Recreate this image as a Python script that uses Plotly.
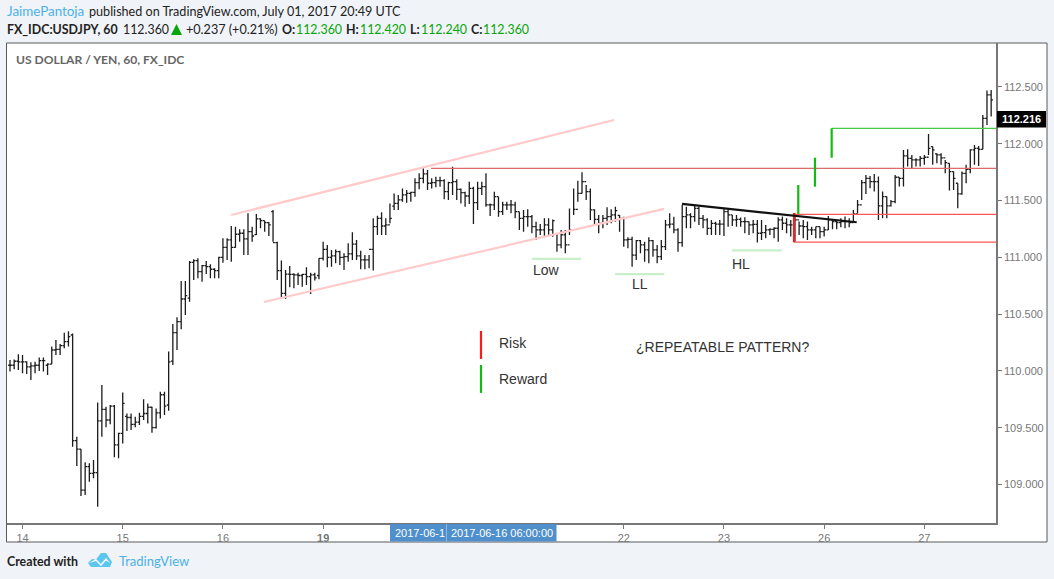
import plotly.graph_objs as go

# bar values (one bar per hour, x is the bar number)
opens = [
    110.05,110.05,110.085,110.08,110.08,110.035,110.045,110.05,110.09,110.05,
    110.06,110.184,110.19,110.223,110.258,110.316,109.386,109.312,108.951,109.157,
    109.098,109.105,109.56,109.662,109.568,109.69,109.348,109.45,109.60,109.59,
    109.53,109.55,109.60,109.625,109.68,109.50,109.63,109.79,109.70,110.087,
    110.337,110.434,110.633,110.64,110.956,110.971,110.874,110.927,110.918,110.895,
    110.883,111.0,111.088,111.153,111.088,111.203,111.212,111.162,111.226,111.20,
    111.338,111.323,111.305,111.402,111.129,110.883,110.683,110.853,110.85,110.845,
    110.84,110.85,110.83,110.845,110.84,110.99,111.07,111.0,111.012,111.05,
    111.0,111.006,111.03,111.117,111.012,110.977,110.977,111.07,111.27,111.343,
    111.276,111.285,111.45,111.475,111.505,111.549,111.563,111.572,111.657,111.696,
    111.734,111.652,111.657,111.675,111.675,111.578,111.657,111.666,111.599,111.569,
    111.54,111.607,111.481,111.607,111.622,111.461,111.461,111.534,111.402,111.461,
    111.461,111.461,111.402,111.343,111.358,111.358,111.27,111.241,111.241,111.285,
    111.241,111.205,111.109,111.197,111.109,111.241,111.423,111.563,111.666,111.578,
    111.417,111.334,111.299,111.343,111.358,111.373,111.37,111.343,111.153,111.158,
    111.02,111.147,111.109,111.065,111.147,111.065,111.006,111.094,111.285,111.293,
    111.241,111.129,111.358,111.373,111.358,111.431,111.343,111.329,111.255,111.299,
    111.293,111.293,111.402,111.373,111.329,111.335,111.315,111.315,111.285,111.291,
    111.212,111.218,111.241,111.247,111.256,111.329,111.3,111.285,111.285,111.329,
    111.276,111.27,111.241,111.241,111.27,111.227,111.241,111.329,111.315,111.306,
    111.315,111.315,111.306,111.382,111.461,111.658,111.696,111.667,111.667,111.453,
    111.535,111.453,111.491,111.705,111.696,111.893,111.872,111.858,111.858,111.872,
    111.881,111.975,111.91,111.902,111.875,111.828,111.755,111.652,111.558,111.74,
    111.775,111.946,111.96,111.951,112.224,112.43,
]
highs = [
    110.096,110.10,110.146,110.14,110.085,110.076,110.08,110.117,110.117,110.067,
    110.214,110.272,110.237,110.337,110.35,110.33,109.421,109.312,109.195,109.186,
    109.216,109.723,109.876,109.685,109.70,109.70,109.456,109.811,109.626,109.626,
    109.597,109.632,109.75,109.714,109.685,109.67,109.817,109.817,110.17,110.413,
    110.472,110.792,110.792,110.968,110.983,110.991,110.933,110.968,110.939,110.903,
    111.006,111.167,111.167,111.276,111.27,111.247,111.247,111.388,111.27,111.382,
    111.344,111.323,111.31,111.417,111.138,110.971,110.888,110.924,110.859,110.865,
    110.853,110.912,110.865,110.865,110.991,111.138,111.109,111.065,111.07,111.059,
    111.035,111.123,111.22,111.153,111.059,111.02,111.02,111.343,111.367,111.396,
    111.343,111.475,111.563,111.549,111.607,111.593,111.578,111.696,111.74,111.784,
    111.769,111.696,111.71,111.71,111.687,111.666,111.798,111.687,111.607,111.578,
    111.666,111.622,111.666,111.666,111.74,111.475,111.578,111.534,111.49,111.49,
    111.505,111.49,111.402,111.417,111.423,111.373,111.314,111.293,111.343,111.343,
    111.334,111.205,111.241,111.241,111.431,111.607,111.675,111.748,111.637,111.607,
    111.423,111.373,111.373,111.44,111.423,111.446,111.373,111.358,111.176,111.182,
    111.153,111.153,111.138,111.176,111.153,111.109,111.153,111.329,111.387,111.358,
    111.255,111.461,111.446,111.387,111.461,111.446,111.373,111.343,111.329,111.314,
    111.329,111.431,111.431,111.373,111.373,111.35,111.353,111.315,111.329,111.329,
    111.329,111.285,111.256,111.265,111.353,111.359,111.344,111.329,111.388,111.315,
    111.329,111.315,111.27,111.27,111.27,111.27,111.364,111.338,111.329,111.344,
    111.359,111.344,111.417,111.505,111.681,111.725,111.717,111.734,111.711,111.579,
    111.535,111.505,111.725,111.705,111.946,111.951,111.902,111.872,111.893,111.902,
    112.086,111.975,111.916,111.916,111.858,111.828,111.755,111.652,111.755,111.814,
    111.951,111.99,111.981,112.254,112.468,112.474,
]
lows = [
    109.994,110.014,110.008,109.98,109.973,109.92,109.98,110.0,109.994,109.964,
    110.06,110.14,110.14,110.2,110.214,109.333,109.163,108.899,108.907,109.025,
    109.054,108.805,109.421,109.503,109.53,109.239,109.23,109.362,109.471,109.48,
    109.503,109.524,109.568,109.538,109.456,109.494,109.582,109.612,109.65,110.052,
    110.184,110.366,110.492,110.61,110.80,110.815,110.786,110.853,110.815,110.815,
    110.815,110.953,110.977,110.962,111.085,111.138,111.021,111.021,111.138,111.197,
    111.256,111.226,111.188,111.138,110.80,110.633,110.633,110.736,110.727,110.756,
    110.742,110.756,110.677,110.795,110.806,110.971,110.912,110.918,110.947,110.932,
    110.888,110.962,110.976,110.976,110.894,110.894,110.903,110.883,111.197,111.197,
    111.197,111.299,111.417,111.417,111.49,111.481,111.49,111.534,111.599,111.652,
    111.593,111.607,111.616,111.622,111.511,111.505,111.549,111.505,111.475,111.446,
    111.47,111.293,111.417,111.549,111.446,111.364,111.417,111.358,111.373,111.417,
    111.387,111.343,111.241,111.226,111.27,111.211,111.153,111.197,111.182,111.188,
    111.182,111.05,111.079,111.035,111.197,111.373,111.49,111.563,111.505,111.329,
    111.285,111.211,111.255,111.285,111.299,111.314,111.226,111.094,111.079,110.918,
    110.976,111.035,110.962,110.947,111.006,110.947,110.976,111.065,111.255,111.211,
    111.05,111.094,111.255,111.255,111.314,111.285,111.255,111.197,111.197,111.197,
    111.197,111.188,111.27,111.276,111.27,111.27,111.212,111.197,111.212,111.13,
    111.153,111.168,111.197,111.168,111.138,111.241,111.212,111.183,111.138,111.197,
    111.168,111.153,111.197,111.168,111.168,111.183,111.241,111.247,111.247,111.265,
    111.256,111.265,111.315,111.388,111.505,111.558,111.608,111.579,111.329,111.344,
    111.344,111.447,111.476,111.623,111.623,111.799,111.784,111.799,111.799,111.814,
    111.902,111.814,111.828,111.814,111.74,111.588,111.593,111.432,111.55,111.652,
    111.74,111.814,111.805,111.951,112.166,112.239,
]
closes = [
    110.05,110.085,110.08,110.08,110.035,110.045,110.05,110.09,110.09,110.06,
    110.184,110.19,110.223,110.258,110.302,109.386,109.312,108.951,109.157,109.098,
    109.105,109.56,109.662,109.568,109.69,109.348,109.45,109.715,109.59,109.53,
    109.55,109.60,109.625,109.68,109.50,109.63,109.79,109.69,110.08,110.337,
    110.434,110.633,110.663,110.956,110.971,110.874,110.927,110.918,110.895,110.883,
    111.0,111.088,111.153,111.088,111.203,111.212,111.162,111.226,111.188,111.338,
    111.323,111.305,111.285,111.129,110.883,110.683,110.853,110.85,110.845,110.84,
    110.85,110.83,110.845,110.82,110.99,111.07,111.0,111.012,111.05,111.0,
    111.006,111.03,111.117,111.012,110.977,110.977,111.07,111.27,111.343,111.276,
    111.285,111.343,111.475,111.505,111.549,111.563,111.572,111.657,111.696,111.734,
    111.652,111.657,111.675,111.675,111.578,111.657,111.666,111.599,111.569,111.54,
    111.607,111.481,111.607,111.622,111.461,111.461,111.534,111.402,111.461,111.461,
    111.461,111.402,111.343,111.358,111.358,111.27,111.241,111.241,111.285,111.241,
    111.323,111.109,111.197,111.109,111.241,111.423,111.563,111.666,111.578,111.417,
    111.334,111.299,111.343,111.358,111.373,111.411,111.343,111.153,111.158,111.02,
    111.147,111.109,111.065,111.147,111.065,111.006,111.094,111.285,111.293,111.241,
    111.129,111.358,111.373,111.358,111.431,111.343,111.329,111.255,111.299,111.293,
    111.293,111.402,111.373,111.329,111.335,111.315,111.315,111.285,111.291,111.212,
    111.218,111.241,111.247,111.256,111.329,111.3,111.285,111.285,111.329,111.276,
    111.27,111.241,111.241,111.27,111.227,111.241,111.329,111.315,111.306,111.315,
    111.315,111.306,111.382,111.461,111.658,111.696,111.667,111.667,111.453,111.535,
    111.453,111.491,111.705,111.696,111.893,111.872,111.858,111.858,111.872,111.881,
    111.96,111.946,111.902,111.875,111.834,111.755,111.696,111.558,111.74,111.775,
    111.946,111.96,111.951,112.224,112.43,112.386,
]

day_ticks = [3, 27, 51, 75, 147, 171, 195, 219]
day_labels = ["14", "15", "16", "<b>19</b>", "22", "23", "26", "27"]
price_ticks = [109, 109.5, 110, 110.5, 111, 111.5, 112, 112.5]
price_labels = ["109.000", "109.500", "110.000", "110.500", "111.000", "111.500", "112.000", "112.500"]
last_price = 112.216

# hand drawn lines on the chart: (name, bars, prices, colour, width)
drawings = [
    ("channel top", [52.93, 144.67], [111.373, 112.209], "#ffcaca", 2.2),
    ("channel bottom", [60.84, 156.65], [110.607, 111.426], "#ffcaca", 2.2),
    ("resistance", [100.84, 236.16], [111.784, 111.784], "#e06a6a", 1.2),
    ("entry", [187.78, 236.16], [111.379, 111.379], "#ff5555", 1.2),
    ("stop", [187.78, 236.16], [111.133, 111.133], "#ff5555", 1.2),
    ("target", [196.8, 236.16], [112.136, 112.136], "#44cc44", 1.2),
    ("reward 1", [188.8, 188.8], [111.637, 111.382], "#11bb11", 2.2),
    ("reward 2", [192.8, 192.8], [111.877, 111.622], "#11bb11", 2.2),
    ("reward 3", [196.8, 196.8], [112.136, 111.877], "#11bb11", 2.2),
    ("low", [124.96, 136.77], [110.986, 110.986], "#c9f0c9", 2.2),
    ("lower low", [144.91, 156.72], [110.853, 110.853], "#c9f0c9", 2.2),
    ("higher low", [172.87, 184.84], [111.062, 111.062], "#c9f0c9", 2.2),
    ("legend risk", [112.81, 112.81], [110.352, 110.105], "#ff1a1a", 2.2),
    ("legend reward", [112.81, 112.81], [110.052, 109.806], "#11bb11", 2.2),
]
top_drawings = [
    ("risk", [187.78, 187.78], [111.39, 111.133], "#ff1a1a", 2.2),
    ("trend", [160.96, 202.8], [111.47, 111.309], "#111111", 2.2),
]

# text on the chart: (text, bar, price, anchor)
chart_notes = [
    ("Risk", 116.6, 110.246, "left"),
    ("Reward", 116.6, 109.93, "left"),
    ("¿REPEATABLE PATTERN?", 149.4, 110.211, "left"),
    ("Low", 128.4, 110.889, "center"),
    ("LL", 150.9, 110.765, "center"),
    ("HL", 175.1, 110.942, "center"),
]

GREEN = "#0aa50a"
BLUE = "#4bb2e8"
PAGE_FONT = "Lato"

# header and footer pieces: (text, left px, centre y px, colour, bold, size)
page_texts = [
    ("JaimePantoja", 6, 11.5, BLUE, False, 13.4),
    ("published on TradingView.com, July 01, 2017 20:49 UTC", 88, 11.5, "#222222", False, 12.6),
    ("FX_IDC:USDJPY, 60", 6, 29.5, "#222222", True, 12.4),
    ("112.360", 122, 29.5, "#222222", False, 12.4),
    ("+0.237 (+0.21%)", 185, 29.5, "#222222", False, 12.6),
    ("O:", 281, 29.5, "#222222", True, 12.4),
    ("112.360", 295, 29.5, GREEN, False, 12.4),
    ("H:", 345, 29.5, "#222222", True, 12.4),
    ("112.420", 359, 29.5, GREEN, False, 12.4),
    ("L:", 409, 29.5, "#222222", True, 12.4),
    ("112.240", 420, 29.5, GREEN, False, 12.4),
    ("C:", 470, 29.5, "#222222", True, 12.4),
    ("112.360", 482, 29.5, GREEN, False, 12.4),
    ("Created with", 6, 561, "#222222", True, 12.4),
    ("TradingView", 118, 561, BLUE, False, 13),
]

W, H = 1054, 579
LEFT, RIGHT, TOP, BOTTOM = 7, 996, 43, 523


def px(x):
    return (x - LEFT) / (RIGHT - LEFT)


def py(y):
    return (BOTTOM - y) / (BOTTOM - TOP)


def box(x0, y0, x1, y1, fill, line=None, layer="above"):
    return dict(type="rect", xref="paper", yref="paper", x0=px(x0), x1=px(x1), y0=py(y0), y1=py(y1),
                fillcolor=fill, line=dict(color=line or fill, width=1 if line else 0), layer=layer)


def page_path(points, fill):
    d = "M" + " L".join(f"{px(x):.5f},{py(y):.5f}" for x, y in points) + " Z"
    return dict(type="path", xref="paper", yref="paper", path=d, fillcolor=fill, line=dict(width=0))


def line_trace(name, xs, ys, color, width):
    return go.Scatter(x=xs, y=ys, mode="lines", name=name, line=dict(color=color, width=width), hoverinfo="skip")


fig = go.Figure()

for d in drawings:
    fig.add_trace(line_trace(*d))

bars = go.Ohlc(x=list(range(len(opens))), open=opens, high=highs, low=lows, close=closes, tickwidth=0.45,
               increasing=dict(line=dict(color="#1c1c1c", width=1.3)),
               decreasing=dict(line=dict(color="#1c1c1c", width=1.3)), name="USDJPY")
fig.add_trace(bars)

# the risk and trend lines sit on top of the bars
for d in top_drawings:
    fig.add_trace(line_trace(*d))

annotations = []
for text, x, y, anchor in chart_notes:
    annotations.append(dict(text=text, x=x, y=y, xref="x", yref="y", xanchor=anchor, yanchor="middle", showarrow=False,
                            font=dict(family="Liberation Sans", size=14, color="#333333")))
for text, x, y, color, bold, size in page_texts:
    annotations.append(dict(text=f"<b>{text}</b>" if bold else text, x=px(x), y=py(y), xref="paper", yref="paper",
                            xanchor="left", yanchor="middle", showarrow=False, xshift=-1,
                            font=dict(family=PAGE_FONT, size=size, color=color)))
annotations.append(dict(text="<b>US DOLLAR / YEN, 60, FX_IDC</b>", x=px(15), y=py(60), xref="paper", yref="paper",
                        xanchor="left", yanchor="middle", showarrow=False, xshift=-1,
                        font=dict(family=PAGE_FONT, size=12.1, color="#666666")))
annotations.append(dict(text="<b>112.216</b>", x=px(1021), y=last_price, xref="paper", yref="y", xanchor="center",
                        yanchor="middle", showarrow=False, font=dict(family="Liberation Sans", size=11, color="white")))
annotations.append(dict(text="2017-06-1", x=px(394), y=py(533), xref="paper", yref="paper", xanchor="left", yanchor="middle",
                        showarrow=False, xshift=-1, font=dict(family="Liberation Sans", size=11, color="white")))
annotations.append(dict(text="2017-06-16 06:00:00", x=px(450), y=py(533), xref="paper", yref="paper", xanchor="left",
                        yanchor="middle", showarrow=False, xshift=-1, font=dict(family="Liberation Sans", size=11, color="white")))

shapes = [
    box(6.5, 43, 1047, 542, "white", "#5a5a5a", layer="below"),
    box(997, 111, 1046, 127.5, "black"),
    box(390, 524, 556.5, 541.5, "#4f8fcb"),
    box(446, 524, 447, 541.5, "#8fb8de"),
    page_path([(171, 35), (176.5, 24), (182, 35)], GREEN),
    page_path([(88, 563), (92, 559), (96, 559.5), (101, 553), (106, 553), (112, 562), (110, 567), (91, 567)], "#5cc6ee"),
    page_path([(89, 563), (96, 559), (101, 564), (106, 558), (110, 563), (106, 560.5), (101, 566), (96, 561)], "white"),
]

fig.update_layout(
    width=W, height=H, autosize=False, showlegend=False,
    margin=dict(l=LEFT, r=W - RIGHT, t=TOP, b=H - BOTTOM),
    paper_bgcolor="#f0f3f7", plot_bgcolor="white",
    font=dict(family="Liberation Sans", size=11, color="#777777"),
    shapes=shapes, annotations=annotations,
)
fig.update_xaxes(range=[-0.72, 236.16], rangeslider_visible=False, showgrid=False, zeroline=False,
                 tickmode="array", tickvals=day_ticks, ticktext=day_labels, ticks="outside", ticklen=4, tickcolor="#777777",
                 showline=True, linecolor="#777777", linewidth=1.5, tickfont=dict(size=11, color="#777777"))
fig.update_yaxes(range=[108.661, 112.887], side="right", showgrid=False, zeroline=False,
                 tickmode="array", tickvals=price_ticks, ticktext=price_labels, ticks="outside", ticklen=4, tickcolor="#777777",
                 showline=True, linecolor="#777777", linewidth=1.5, tickfont=dict(size=11, color="#777777"))

# the browser's default page margin would push the figure 8px in
fig.write_html("out.html", config={"displayModeBar": False},
               post_script="document.body.style.margin='0';document.body.style.overflow='hidden';")
